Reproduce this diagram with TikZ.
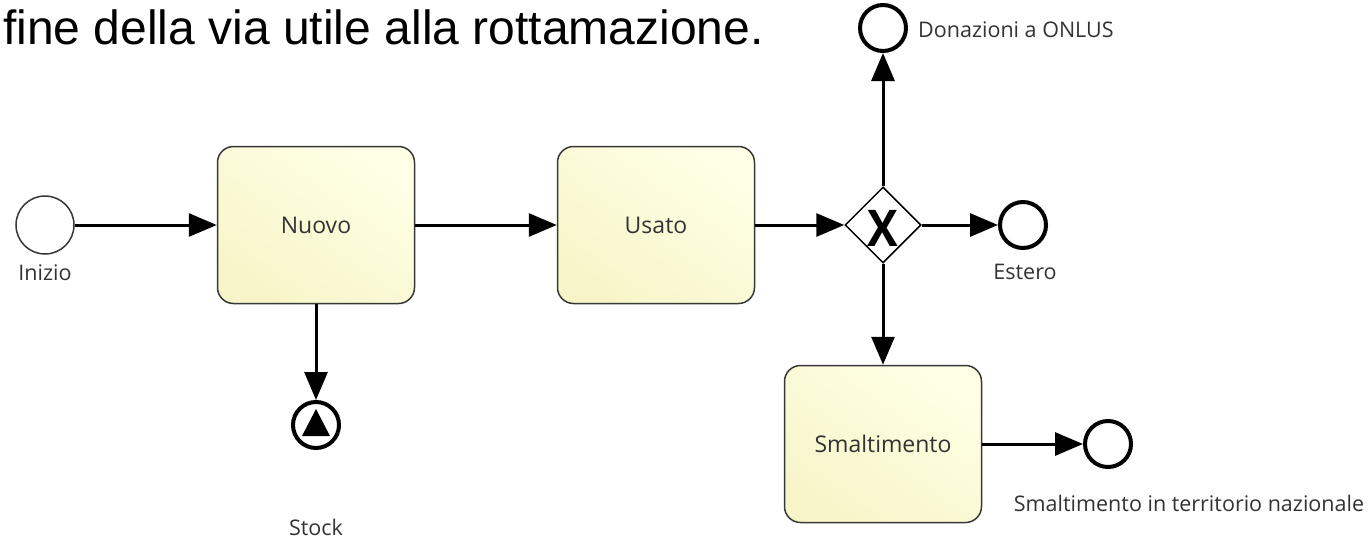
\documentclass[tikz,border=0pt]{standalone}
\usepackage{fontspec}
\setmainfont{Open Sans}
\newfontfamily\titlefont{Liberation Sans}
\usetikzlibrary{arrows.meta,shapes.geometric}
\definecolor{boxtop}{RGB}{255,255,230}
\definecolor{boxbot}{RGB}{247,245,200}
\definecolor{txt}{RGB}{51,51,51}
\definecolor{edge}{RGB}{55,55,55}
\begin{document}
\begin{tikzpicture}[x=1pt,y=-1pt,
  task/.style={draw=edge,line width=1.5pt,rounded corners=16pt,minimum width=197pt,minimum height=157pt,inner sep=0pt,
    top color=boxtop,bottom color=boxbot,shading angle=-35,font=\fontsize{23}{27}\selectfont,text=txt},
  startev/.style={circle,draw=edge,line width=1.5pt,minimum size=58pt,inner sep=0pt,fill=white},
  endev/.style={circle,draw=black,line width=4pt,minimum size=46pt,inner sep=0pt,fill=white},
  gateway/.style={diamond,draw=black,line width=1.5pt,minimum width=76pt,minimum height=76pt,inner sep=0pt,fill=white},
  lbl/.style={font=\fontsize{21.5}{25}\selectfont,text=txt,inner sep=0pt},
  flow/.style={line width=3pt,-{Triangle[length=28pt,width=23pt]}}]
\useasboundingbox (0,0) rectangle (1372,541);
\node[anchor=base west,inner sep=0pt,font=\titlefont\fontsize{48}{56}\selectfont] (title) at (3,44) {fine della via utile alla rottamazione.};

\node[startev] (start) at (45,225) {};
\node[task] (nuovo) at (316,225) {Nuovo};
\node[task] (usato) at (656,225) {Usato};
\node[gateway] (gw) at (883,225) {};
\node[font=\bfseries\fontsize{46}{46}\selectfont,inner sep=0pt,yscale=1.1] (gwx) at (883,228) {X};
\node[endev] (estero) at (1023,225) {};
\node[endev] (onlus) at (883,28) {};
\node[task] (smalt) at (883,444) {Smaltimento};
\node[endev] (naz) at (1108,444) {};
\node[endev] (stock) at (316,425) {};
\fill (316,409) -- (302,436) -- (330,436) -- cycle;

\node[lbl] (linizio) at (45,273) {Inizio};
\node[lbl] (lestero) at (1025,272) {Estero};
\node[lbl,anchor=west] (lonlus) at (918,30) {Donazioni a ONLUS};
\node[lbl] (lstock) at (316,527) {Stock};
\node[lbl] (lnaz) at (1189,503) {Smaltimento in territorio nazionale};

\draw[flow] (start) -- (nuovo);
\draw[flow] (nuovo) -- (usato);
\draw[flow] (usato) -- (gw);
\draw[flow] (gw) -- (estero);
\draw[flow] (gw) -- (onlus);
\draw[flow] (gw) -- (smalt);
\draw[flow] (smalt) -- (naz);
\draw[flow] (nuovo) -- (stock);
\end{tikzpicture}
\end{document}
